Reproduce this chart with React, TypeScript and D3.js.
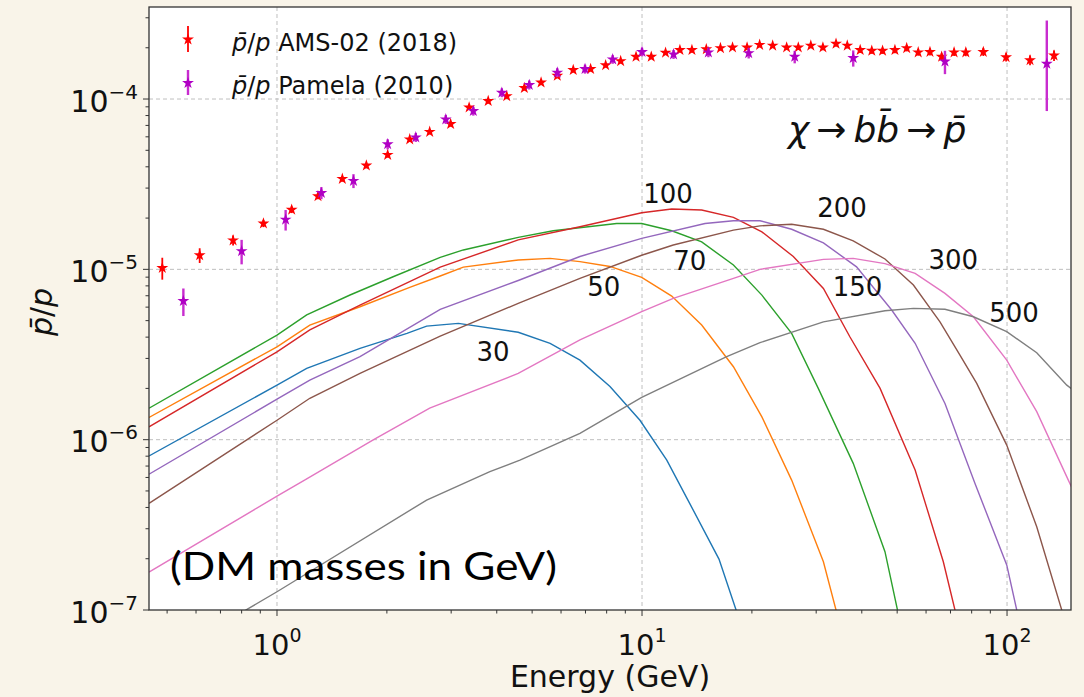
import React from 'react';
import * as d3 from 'd3';

const W = 1084;
const H = 697;
const PLOT = { left: 149, right: 1071, top: 7, bottom: 610 };

const xDomain: [number, number] = [0.446, 149.7];
const yDomain: [number, number] = [1e-7, 3.47e-4];

const xMajorTicks = [1, 10, 100];
const xMajorExp = ['0', '1', '2'];
const yMajorTicks = [1e-7, 1e-6, 1e-5, 1e-4];
const yMajorExp = ['\u22127', '\u22126', '\u22125', '\u22124'];

// AMS-02 (2018) pbar/p
const amsE = [0.485, 0.614, 0.758, 0.918, 1.097, 1.295, 1.51, 1.757, 2.01, 2.31, 2.62, 2.99, 3.36, 3.79, 4.26, 4.76, 5.29, 5.86, 6.48, 7.23, 7.95, 8.74, 9.63, 10.6, 11.6, 12.7, 13.7, 15.0, 16.4, 17.7, 19.4, 21.0, 22.8, 24.9, 26.8, 29.0, 31.3, 34.0, 36.5, 39.6, 42.6, 45.6, 49.3, 53.1, 57.1, 61.5, 66.2, 71.6, 77.1, 86.1, 99.4, 115.6, 134.5];
const amsV = [1.02e-5, 1.21e-5, 1.48e-5, 1.86e-5, 2.24e-5, 2.69e-5, 3.40e-5, 4.07e-5, 4.70e-5, 5.80e-5, 6.42e-5, 7.13e-5, 8.93e-5, 9.73e-5, 1.04e-4, 1.16e-4, 1.25e-4, 1.37e-4, 1.48e-4, 1.50e-4, 1.58e-4, 1.67e-4, 1.77e-4, 1.77e-4, 1.87e-4, 1.94e-4, 1.94e-4, 1.96e-4, 1.99e-4, 2.01e-4, 2.01e-4, 2.08e-4, 2.06e-4, 2.01e-4, 2.01e-4, 2.06e-4, 2.01e-4, 2.11e-4, 2.06e-4, 1.94e-4, 1.92e-4, 1.92e-4, 1.94e-4, 1.99e-4, 1.88e-4, 1.89e-4, 1.77e-4, 1.88e-4, 1.88e-4, 1.89e-4, 1.76e-4, 1.69e-4, 1.80e-4];
const amsErr = [1.5e-6, 1.2e-6, 1.0e-6, 0.9e-6, 1.0e-6, 1.1e-6, 1.3e-6, 1.5e-6, 1.7e-6, 2.0e-6, 2.2e-6, 2.4e-6, 3.0e-6, 3.2e-6, 3.4e-6, 3.8e-6, 4.0e-6, 4.4e-6, 4.7e-6, 4.8e-6, 5.0e-6, 5.3e-6, 5.6e-6, 5.6e-6, 5.9e-6, 6.1e-6, 6.2e-6, 6.3e-6, 6.4e-6, 6.5e-6, 6.6e-6, 6.9e-6, 6.9e-6, 6.9e-6, 7.0e-6, 7.3e-6, 7.3e-6, 7.8e-6, 7.8e-6, 7.6e-6, 7.7e-6, 7.9e-6, 8.2e-6, 8.6e-6, 8.4e-6, 8.7e-6, 8.5e-6, 9.3e-6, 9.6e-6, 1.0e-5, 1.0e-5, 1.1e-5, 1.3e-5];

// PAMELA (2010) pbar/p
const pamE = [0.554, 0.80, 1.056, 1.323, 1.62, 2.01, 2.40, 2.90, 3.45, 4.13, 4.91, 5.86, 6.98, 8.31, 10.0, 12.2, 15.2, 19.6, 26.2, 37.9, 67.6, 128.5];
const pamV = [6.52e-6, 1.28e-5, 1.96e-5, 2.81e-5, 3.31e-5, 5.43e-5, 5.96e-5, 7.6e-5, 8.5e-5, 1.09e-4, 1.21e-4, 1.43e-4, 1.50e-4, 1.71e-4, 1.89e-4, 1.83e-4, 1.88e-4, 1.86e-4, 1.77e-4, 1.74e-4, 1.66e-4, 1.61e-4];
const pamErrLo = [1.2e-6, 2.1e-6, 2.7e-6, 2.3e-6, 3.1e-6, 3.7e-6, 3.6e-6, 4.6e-6, 5.1e-6, 6.5e-6, 7.3e-6, 8.6e-6, 9.0e-6, 1.0e-5, 1.1e-5, 1.1e-5, 1.2e-5, 1.3e-5, 1.5e-5, 1.9e-5, 2.6e-5, 7.6e-5];
const pamErrHi = [1.2e-6, 2.1e-6, 2.7e-6, 2.3e-6, 3.1e-6, 3.7e-6, 3.6e-6, 4.6e-6, 5.1e-6, 6.5e-6, 7.3e-6, 8.6e-6, 9.0e-6, 1.0e-5, 1.1e-5, 1.1e-5, 1.2e-5, 1.3e-5, 1.5e-5, 1.9e-5, 2.6e-5, 1.28e-4];

// DM curves chi -> b bbar -> pbar, [E (GeV), pbar/p]
const mass30 = [[0.446, 8.02e-7], [1.0, 2.09e-6], [1.206, 2.62e-6], [1.688, 3.44e-6], [2.27, 4.21e-6], [2.57, 4.64e-6], [3.14, 4.82e-6], [4.58, 4.27e-6], [5.60, 3.68e-6], [6.76, 2.93e-6], [8.17, 2.05e-6], [9.87, 1.30e-6], [11.69, 7.59e-7], [13.36, 4.42e-7], [16.25, 1.99e-7], [18.1, 1.0e-7], [19.5, 5.5e-8]];
const mass50 = [[0.446, 1.35e-6], [1.0, 3.51e-6], [1.23, 4.71e-6], [1.688, 6.03e-6], [2.31, 7.84e-6], [2.80, 9.14e-6], [3.24, 1.03e-5], [4.58, 1.135e-5], [5.60, 1.16e-5], [6.76, 1.11e-5], [8.17, 1.04e-5], [9.98, 8.97e-6], [12.06, 6.97e-6], [14.57, 4.71e-6], [17.8, 2.68e-6], [21.3, 1.36e-6], [25.7, 5.79e-7], [31.4, 1.92e-7], [34.0, 1.0e-7], [36.0, 6e-8]];
const mass70 = [[0.446, 1.53e-6], [1.0, 4.11e-6], [1.206, 5.40e-6], [1.585, 7.07e-6], [2.08, 9.05e-6], [2.80, 1.176e-5], [3.24, 1.30e-5], [4.58, 1.54e-5], [5.71, 1.685e-5], [8.52, 1.86e-5], [9.98, 1.86e-5], [12.06, 1.685e-5], [14.57, 1.45e-5], [17.8, 1.06e-5], [21.3, 7.06e-6], [25.7, 4.21e-6], [30.4, 2.0e-6], [37.9, 7.26e-7], [46.3, 2.2e-7], [50.1, 1.0e-7], [53.0, 6e-8]];
const mass100 = [[0.446, 1.19e-6], [1.0, 3.28e-6], [1.23, 4.41e-6], [1.688, 6.17e-6], [2.80, 1.03e-5], [4.58, 1.49e-5], [6.76, 1.78e-5], [9.98, 2.15e-5], [12.06, 2.26e-5], [14.57, 2.23e-5], [17.8, 2.02e-5], [21.3, 1.66e-5], [25.97, 1.19e-5], [31.4, 7.73e-6], [37.1, 4.02e-6], [44.9, 2.0e-6], [56.0, 6.64e-7], [66.9, 1.92e-7], [72.0, 1.0e-7], [76.0, 6e-8]];
const mass150 = [[0.446, 6.27e-7], [1.0, 1.73e-6], [1.23, 2.24e-6], [1.688, 3.07e-6], [2.80, 5.82e-6], [4.58, 8.6e-6], [6.76, 1.19e-5], [9.98, 1.52e-5], [14.88, 1.86e-5], [17.8, 1.93e-5], [21.05, 1.93e-5], [25.7, 1.72e-5], [31.4, 1.43e-5], [38.7, 1.035e-5], [48.3, 5.77e-6], [56.0, 3.68e-6], [67.6, 1.63e-6], [81.7, 5.53e-7], [99.8, 1.84e-7], [106.3, 1.0e-7], [110.0, 6e-8]];
const mass200 = [[0.446, 4.23e-7], [1.0, 1.30e-6], [1.23, 1.75e-6], [1.688, 2.45e-6], [2.80, 4.06e-6], [4.58, 6.31e-6], [6.76, 8.85e-6], [9.98, 1.21e-5], [12.18, 1.39e-5], [17.8, 1.70e-5], [21.05, 1.80e-5], [25.7, 1.84e-5], [31.4, 1.72e-5], [37.9, 1.47e-5], [46.3, 1.15e-5], [55.4, 8.09e-6], [65.5, 4.92e-6], [74.3, 3.14e-6], [82.6, 2.14e-6], [99.8, 9.29e-7], [120.6, 3.08e-7], [141.2, 1.0e-7], [150.0, 6e-8]];
const mass300 = [[0.446, 1.67e-7], [1.0, 4.66e-7], [1.19, 5.79e-7], [1.835, 9.96e-7], [2.62, 1.53e-6], [4.58, 2.45e-6], [6.76, 3.85e-6], [9.98, 5.64e-6], [12.18, 6.76e-6], [17.8, 8.85e-6], [21.05, 1.0e-5], [31.4, 1.145e-5], [37.9, 1.16e-5], [46.3, 1.08e-5], [56.0, 9.47e-6], [67.6, 7.23e-6], [80.9, 5.27e-6], [99.8, 2.93e-6], [120.6, 1.46e-6], [145.8, 6.05e-7], [152.0, 5e-7]];
const mass500 = [[0.75, 7e-8], [0.822, 1.0e-7], [1.0, 1.28e-7], [2.57, 4.42e-7], [3.83, 6.49e-7], [4.63, 7.59e-7], [6.76, 1.09e-6], [9.98, 1.77e-6], [17.06, 3.07e-6], [21.05, 3.71e-6], [31.4, 4.92e-6], [46.3, 5.71e-6], [55.4, 5.90e-6], [67.6, 5.83e-6], [80.9, 5.27e-6], [99.8, 4.31e-6], [120.6, 3.24e-6], [145.8, 2.09e-6], [152.0, 1.95e-6]];

const massNames = ['30', '50', '70', '100', '150', '200', '300', '500'];
const massCurves = [mass30, mass50, mass70, mass100, mass150, mass200, mass300, mass500];
const massColors = ['#1f77b4', '#ff7f0e', '#2ca02c', '#d62728', '#9467bd', '#8c564b', '#e377c2', '#7f7f7f'];
// label anchor (left, baseline) in data coords
const labelE = [3.52, 7.08, 12.18, 10.08, 33.3, 30.2, 60.9, 89.4];
const labelV = [2.89e-6, 6.97e-6, 9.9e-6, 2.46e-5, 6.97e-6, 2.04e-5, 1.0e-5, 4.92e-6];

const FONT = 'DejaVu Sans, sans-serif';

export default function App() {
  const x = d3.scaleLog().domain(xDomain).range([PLOT.left, PLOT.right]);
  const y = d3.scaleLog().domain(yDomain).range([PLOT.bottom, PLOT.top]);

  const line = d3
    .line<number[]>()
    .x((d) => x(d[0]))
    .y((d) => y(d[1]));

  const star = d3.symbol(d3.symbolStar, 44)() as string;

  const xMinor: number[] = [];
  [0.1, 1, 10, 100].forEach((dec) => {
    for (let k = 2; k <= 9; k++) {
      const v = dec * k;
      if (v > xDomain[0] && v < xDomain[1]) xMinor.push(v);
    }
  });
  const yMinor: number[] = [];
  [1e-7, 1e-6, 1e-5, 1e-4].forEach((dec) => {
    for (let k = 2; k <= 9; k++) {
      const v = dec * k;
      if (v > yDomain[0] && v < yDomain[1]) yMinor.push(v);
    }
  });

  const pw = PLOT.right - PLOT.left;
  const ph = PLOT.bottom - PLOT.top;
  const axisColor = '#333';

  return (
    <svg width={W} height={H} style={{ position: 'absolute', left: 0, top: 0 }}>
      <defs>
        <clipPath id="plotclip">
          <rect x={PLOT.left} y={PLOT.top} width={pw} height={ph} />
        </clipPath>
      </defs>
      <rect x={0} y={0} width={W} height={H} fill="#f9f4e9" />
      <rect x={PLOT.left} y={PLOT.top} width={pw} height={ph} fill="#ffffff" />

      {/* grid */}
      <g stroke="#b8b8b8" strokeWidth={0.9} strokeDasharray="4,3">
        {xMajorTicks.map((t) => (
          <line key={'gx' + t} x1={x(t)} x2={x(t)} y1={PLOT.top} y2={PLOT.bottom} />
        ))}
        {yMajorTicks.filter((t) => t > yDomain[0]).map((t) => (
          <line key={'gy' + t} x1={PLOT.left} x2={PLOT.right} y1={y(t)} y2={y(t)} />
        ))}
      </g>

      {/* curves */}
      <g clipPath="url(#plotclip)" fill="none" strokeWidth={1.4}>
        {massCurves.map((c, i) => (
          <path key={'c' + i} d={line(c) as string} stroke={massColors[i]} />
        ))}
      </g>

      {/* data points */}
      <g clipPath="url(#plotclip)">
        {amsE.map((e, i) => (
          <g key={'a' + i}>
            <line x1={x(e)} x2={x(e)} y1={y(amsV[i] - amsErr[i])} y2={y(amsV[i] + amsErr[i])} stroke="#ff0000" strokeWidth={1.8} />
            <path d={star} transform={`translate(${x(e)},${y(amsV[i])})`} fill="#ff0000" />
          </g>
        ))}
        {pamE.map((e, i) => (
          <g key={'p' + i}>
            <line x1={x(e)} x2={x(e)} y1={y(pamV[i] - pamErrLo[i])} y2={y(pamV[i] + pamErrHi[i])} stroke="#c82ccf" strokeWidth={2.4} />
            <path d={star} transform={`translate(${x(e)},${y(pamV[i])})`} fill="#b000c4" />
          </g>
        ))}
      </g>

      {/* curve labels */}
      <g fontFamily={FONT} fontSize={26} fill="#111">
        {massNames.map((n, i) => (
          <text key={'l' + n} x={x(labelE[i])} y={y(labelV[i])}>{n}</text>
        ))}
      </g>

      {/* frame */}
      <rect x={PLOT.left} y={PLOT.top} width={pw} height={ph} fill="none" stroke={axisColor} strokeWidth={1.3} />

      {/* ticks */}
      <g stroke={axisColor} strokeWidth={1}>
        {xMajorTicks.map((t) => (
          <line key={'xt' + t} x1={x(t)} x2={x(t)} y1={PLOT.bottom} y2={PLOT.bottom + 6} />
        ))}
        {xMinor.map((t) => (
          <line key={'xm' + t} x1={x(t)} x2={x(t)} y1={PLOT.bottom} y2={PLOT.bottom + 3.5} />
        ))}
        {yMajorTicks.map((t) => (
          <line key={'yt' + t} x1={PLOT.left - 6} x2={PLOT.left} y1={y(t)} y2={y(t)} />
        ))}
        {yMinor.map((t) => (
          <line key={'ym' + t} x1={PLOT.left - 3.5} x2={PLOT.left} y1={y(t)} y2={y(t)} />
        ))}
      </g>

      <g fontFamily={FONT} fill="#111">
        {xMajorTicks.map((t, i) => (
          <text key={'xl' + t} x={x(t)} y={655} fontSize={29} textAnchor="middle">
            10<tspan fontSize={19} dy={-13}>{xMajorExp[i]}</tspan>
          </text>
        ))}
        {yMajorTicks.map((t, i) => (
          <text key={'yl' + t} x={138} y={y(t) + 12.5} fontSize={30} textAnchor="end">
            10<tspan fontSize={20} dy={-13}>{yMajorExp[i]}</tspan>
          </text>
        ))}
        <text x={(PLOT.left + PLOT.right) / 2} y={687} fontSize={30} textAnchor="middle">
          Energy (GeV)
        </text>
        <text transform="translate(52,312) rotate(-90)" fontSize={30} textAnchor="middle">
          <tspan fontStyle="italic">p&#772;</tspan>/<tspan fontStyle="italic">p</tspan>
        </text>
      </g>

      {/* legend */}
      <g>
        <line x1={188} x2={188} y1={26} y2={52} stroke="#ff0000" strokeWidth={1.8} />
        <path d={star} transform="translate(188,39.5)" fill="#ff0000" />
        <line x1={188} x2={188} y1={70} y2={95} stroke="#c82ccf" strokeWidth={2.4} />
        <path d={star} transform="translate(188,83)" fill="#b000c4" />
        <text x={232} y={51} fontFamily={FONT} fontSize={24} fill="#111">
          <tspan fontStyle="italic">p&#772;</tspan>/<tspan fontStyle="italic">p</tspan> AMS-02 (2018)
        </text>
        <text x={232} y={94} fontFamily={FONT} fontSize={24} fill="#111">
          <tspan fontStyle="italic">p&#772;</tspan>/<tspan fontStyle="italic">p</tspan> Pamela (2010)
        </text>
      </g>

      {/* process annotation */}
      <text x={788} y={141.5} fontFamily={FONT} fontSize={36} fill="#111">
        <tspan fontStyle="italic">χ</tspan>
        <tspan dx={7}>→</tspan>
        <tspan dx={7} fontStyle="italic">b</tspan>
        <tspan fontStyle="italic">b&#772;</tspan>
        <tspan dx={7}>→</tspan>
        <tspan dx={7} fontStyle="italic">p&#772;</tspan>
      </text>

      <text x={170} y={580} fontFamily="Lato, sans-serif" fontSize={39} fill="#000" textLength={387} lengthAdjust="spacingAndGlyphs">
        (DM masses in GeV)
      </text>
    </svg>
  );
}
